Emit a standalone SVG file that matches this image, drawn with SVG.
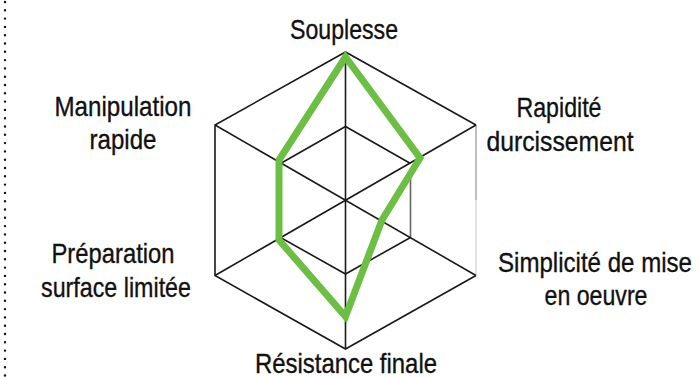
<svg xmlns="http://www.w3.org/2000/svg" width="699" height="377" viewBox="0 0 699 377">
<style>
.grid{fill:none;stroke:#1a1a1a;stroke-width:1.6;stroke-linejoin:miter}
.lbl{font-family:"Liberation Sans",Arial,sans-serif;font-size:28px;fill:#111;stroke:#111;stroke-width:0.35;text-anchor:middle}
</style>
<rect width="699" height="377" fill="#fff"/>
<line x1="5" y1="2" x2="5" y2="377" stroke="#111" stroke-width="2.4" stroke-linecap="round" stroke-dasharray="0 8.3"/>
<g id="grid">
<polyline class="grid" points="476,125 345.5,52 215,125 215,275.5 345.5,349 476,275.5"/>
<line x1="476" y1="125" x2="476" y2="200" stroke="#b0b0b0" stroke-width="1.6"/>
<line x1="476" y1="200" x2="476" y2="275.5" stroke="#dcdcdc" stroke-width="1.6"/>
<polyline class="grid" points="410.5,163.5 345.5,126.5 280.5,163.5 280.5,237.5 345.5,274 410.5,237.5"/>
<line x1="410.5" y1="172" x2="410.5" y2="237.5" stroke="#666" stroke-width="1.6"/>
<line class="grid" x1="345.5" y1="52" x2="345.5" y2="349"/>
<line class="grid" x1="215" y1="125" x2="476" y2="275.5"/>
<line class="grid" x1="215" y1="275.5" x2="476" y2="125"/>
</g>
<g id="series">
<polygon points="345.5,57 420,158 382,220 345.5,316.5 279,240 279,160" fill="none" stroke="#6dbe44" stroke-width="7" stroke-linejoin="miter"/>
</g>
<g id="labels">
<text class="lbl" x="344" y="38.5" textLength="108" lengthAdjust="spacingAndGlyphs">Souplesse</text>
<text class="lbl" x="123" y="116" textLength="137" lengthAdjust="spacingAndGlyphs">Manipulation</text>
<text class="lbl" x="123" y="149" textLength="67" lengthAdjust="spacingAndGlyphs">rapide</text>
<text class="lbl" x="559" y="117" textLength="85" lengthAdjust="spacingAndGlyphs">Rapidité</text>
<text class="lbl" x="560" y="151" textLength="147" lengthAdjust="spacingAndGlyphs">durcissement</text>
<text class="lbl" x="595" y="271.5" textLength="194" lengthAdjust="spacingAndGlyphs">Simplicité de mise</text>
<text class="lbl" x="596" y="305" textLength="103" lengthAdjust="spacingAndGlyphs">en oeuvre</text>
<text class="lbl" x="113" y="263" textLength="123" lengthAdjust="spacingAndGlyphs">Préparation</text>
<text class="lbl" x="116" y="297" textLength="150" lengthAdjust="spacingAndGlyphs">surface limitée</text>
<text class="lbl" x="346" y="372.5" textLength="182" lengthAdjust="spacingAndGlyphs">Résistance finale</text>
</g>
</svg>
